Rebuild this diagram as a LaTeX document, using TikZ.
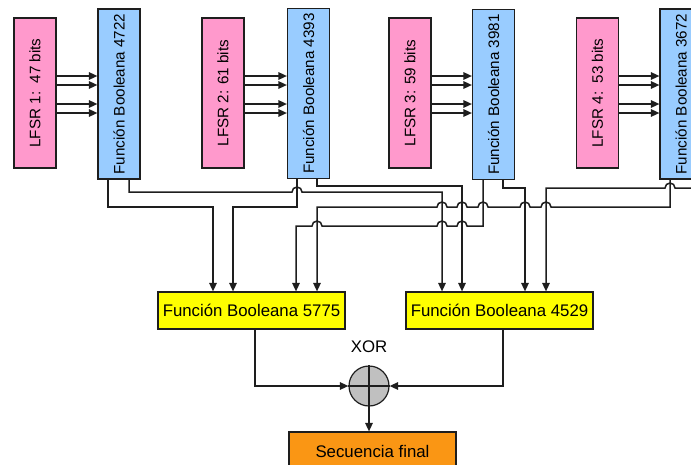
\documentclass[tikz,border=0pt]{standalone}
\usepackage{fontspec}
\usepackage{graphicx}
\setmainfont{Liberation Sans}
\usetikzlibrary{arrows.meta}
\definecolor{lfsrpink}{RGB}{255,153,204}
\definecolor{fbblue}{RGB}{153,204,255}
\definecolor{fbyellow}{RGB}{255,255,0}
\definecolor{fborange}{RGB}{250,150,20}
\definecolor{xorgray}{RGB}{192,192,192}
\definecolor{linec}{RGB}{30,30,30}
\begin{document}
\begin{tikzpicture}[x=1pt,y=1pt,
  lfsrbox/.style={draw=linec, line width=1.2pt, fill=lfsrpink, minimum width=42pt, minimum height=150pt, inner sep=0pt, font=\fontsize{15.2}{18}\selectfont},
  fbbox/.style={draw=linec, line width=1.2pt, fill=fbblue, minimum width=42pt, minimum height=170pt, inner sep=0pt, font=\fontsize{15.2}{18}\selectfont},
  ybox/.style={draw=linec, line width=1.2pt, fill=fbyellow, minimum width=187pt, minimum height=37pt, inner sep=0pt, font=\fontsize{16.8}{20}\selectfont},
  obox/.style={draw=linec, line width=1.2pt, fill=fborange, minimum width=167pt, minimum height=38pt, inner sep=0pt, font=\fontsize{16.8}{20}\selectfont},
  xorc/.style={circle, draw=linec, line width=1.2pt, fill=xorgray, minimum size=40pt, inner sep=0pt},
  wire/.style={line width=1.5pt, draw=linec},
  arr/.style={wire, -{Triangle[length=8.5pt,width=7.5pt]}}
]
\useasboundingbox (0,0) rectangle (691,-464);
\clip (0,0) rectangle (691,-464);

% top row
\node[lfsrbox] (l1) at (35,-93) {\rotatebox{90}{LFSR 1:\ \ 47 bits}};
\node[fbbox] (f1) at (119,-94) {\rotatebox{90}{Función Booleana 4722}};
\node[lfsrbox] (l2) at (223,-93) {\rotatebox{90}{LFSR 2: 61 bits}};
\node[fbbox] (f2) at (308.5,-93.5) {\rotatebox{90}{Función Booleana 4393}};
\node[lfsrbox] (l3) at (410,-93) {\rotatebox{90}{LFSR 3: 59 bits}};
\node[fbbox] (f3) at (493.5,-94.5) {\rotatebox{90}{Función Booleana 3981}};
\node[lfsrbox] (l4) at (597.5,-93) {\rotatebox{90}{LFSR 4:\ \ 53 bits}};
\node[fbbox] (f4) at (681,-94) {\rotatebox{90}{Función Booleana 3672}};

% LFSR -> FB arrows
\foreach \a/\b in {l1/f1,l2/f2,l3/f3,l4/f4}{
  \foreach \yy in {-76,-85,-104,-113}{
    \draw[arr] (\a.east |- 0,\yy) -- (\b.west |- 0,\yy);
  }
}

% bottom boxes
\node[ybox] (y1) at (251.5,-310.5) {Función Booleana 5775};
\node[ybox] (y2) at (499.5,-310.5) {Función Booleana 4529};
\node[xorc] (x) at (369,-386) {};
\draw[line width=1.1pt, draw=linec] (x.north) -- (x.south) (x.west) -- (x.east);
\node[font=\fontsize{16.8}{20}\selectfont] (xl) at (369,-347) {XOR};
\node[obox] (sf) at (372.5,-451) {Secuencia final};

% wiring
\draw[arr] (f1.south -| 108,0) -- (108,-207) -- (213,-207) -- (y1.north -| 213,0);
\draw[arr] (f1.south -| 129,0) -- (129,-192) -- (292,-192) arc (180:0:5) -- (442,-192) -- (y2.north -| 442,0);
\draw[arr] (f2.south -| 297,0) -- (297,-207) -- (233,-207) -- (y1.north -| 233,0);
\draw[arr] (f2.south -| 317,0) -- (317,-186) -- (462,-186) -- (y2.north -| 462,0);
\draw[arr] (f3.south -| 483,0) -- (483,-226) -- (467,-226) arc (0:180:5) -- (447,-226) arc (0:180:5) -- (322,-226) arc (0:180:5) -- (296,-226) -- (y1.north -| 296,0);
\draw[arr] (f3.south -| 503,0) -- (503,-188) -- (525,-188) -- (y2.north -| 525,0);
\draw[arr] (f4.south -| 670,0) -- (670,-207) -- (551,-207) arc (0:180:5) -- (530,-207) arc (0:180:5) -- (488,-207) arc (0:180:5) -- (467,-207) arc (0:180:5) -- (447,-207) arc (0:180:5) -- (317,-207) -- (y1.north -| 317,0);
\draw[arr] (f4.south -| 693,0) -- (693,-188) -- (675,-188) arc (0:180:5) -- (546,-188) -- (y2.north -| 546,0);

% to XOR
\draw[arr] (y1.south -| 255,0) |- (x.west);
\draw[arr] (y2.south -| 503,0) |- (x.east);
\draw[arr] (x.south) -- (sf.north -| x.south);
\end{tikzpicture}
\end{document}
